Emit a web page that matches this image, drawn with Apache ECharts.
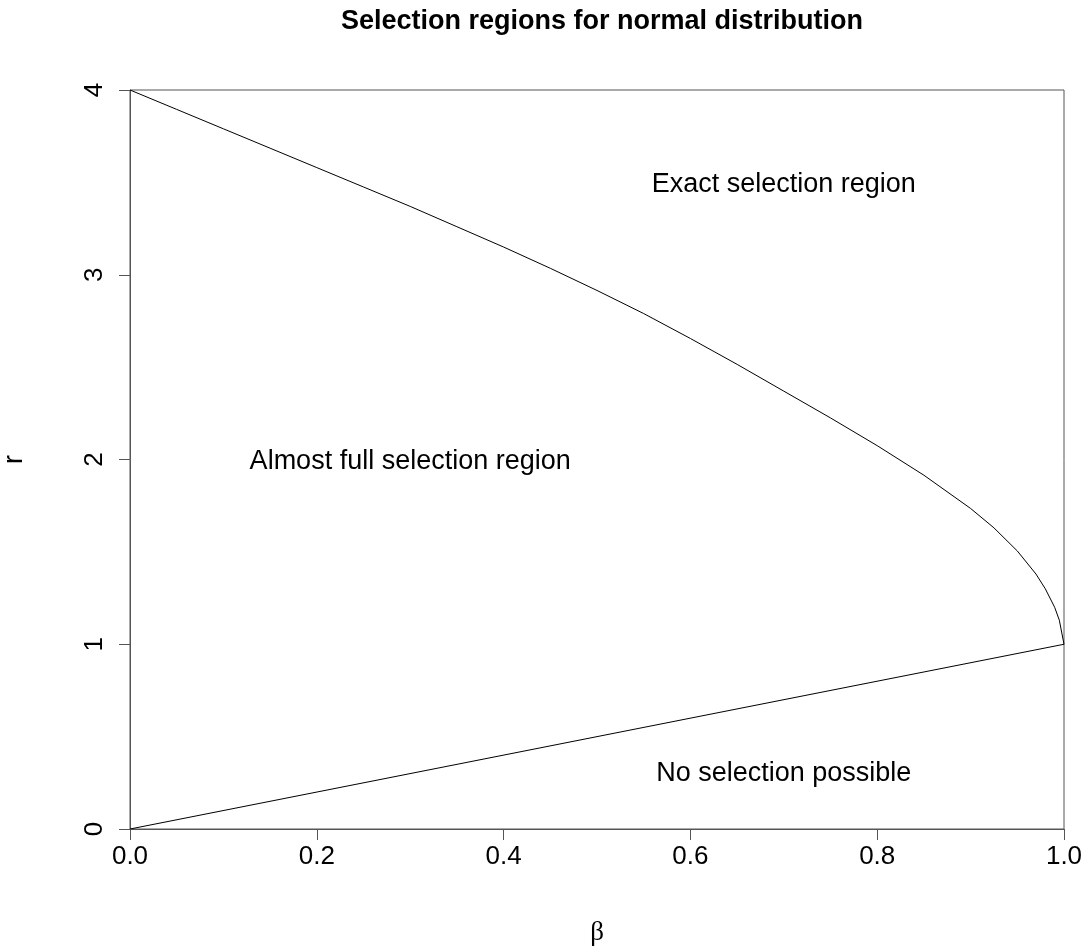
<!DOCTYPE html>
<html><head><meta charset="utf-8">
<script src="https://cdn.jsdelivr.net/npm/echarts@6/dist/echarts.min.js"></script>
<style>html,body{margin:0;padding:0;background:#fff}#c{width:1088px;height:949px}</style>
</head><body><div id="c"></div>
<script>
var betaUpper = [0, 0.05, 0.1, 0.15, 0.2, 0.25, 0.3, 0.35, 0.4, 0.45, 0.5, 0.55, 0.6, 0.65, 0.7, 0.75, 0.8, 0.85, 0.9, 0.925, 0.95, 0.97, 0.98, 0.99, 0.995, 1.0];
var rUpper    = [4.0, 3.895, 3.79, 3.685, 3.58, 3.475, 3.37, 3.26, 3.15, 3.035, 2.915, 2.79, 2.655, 2.515, 2.37, 2.225, 2.075, 1.915, 1.735, 1.63, 1.505, 1.38, 1.30, 1.20, 1.13, 1.0];
var betaLower = [0, 1];
var rLower    = [0, 1];
var xTicks = [0.0, 0.2, 0.4, 0.6, 0.8, 1.0];
var yTicks = [0, 1, 2, 3, 4];
var regionText = ["Exact selection region", "Almost full selection region", "No selection possible"];
var regionBeta = [0.7, 0.3, 0.7];
var regionR    = [3.49, 1.99, 0.3];

function zip(a, b) { return a.map(function (v, i) { return [v, b[i]]; }); }
var axisColor = '#555';
var sans = 'Liberation Sans, Arial, sans-serif';
var chart = echarts.init(document.getElementById('c'));
chart.setOption({
  animation: false,
  backgroundColor: '#fff',
  title: {
    text: 'Selection regions for normal distribution',
    left: 597, top: 3, textAlign: 'center',
    textStyle: { fontFamily: sans, fontSize: 27, fontWeight: 'bold', color: '#000' }
  },
  grid: { left: 130, right: 24, top: 90, bottom: 120, containLabel: false, outerBoundsMode: 'none',
    show: true, borderColor: axisColor, borderWidth: 1, backgroundColor: 'transparent' },
  xAxis: {
    type: 'value', min: xTicks[0], max: xTicks[xTicks.length - 1], interval: 0.2,
    name: 'β', nameLocation: 'middle', nameGap: 90,
    nameTextStyle: { fontFamily: 'Liberation Serif, DejaVu Serif, serif', fontSize: 27, color: '#000' },
    axisLine: { show: true, lineStyle: { color: axisColor, width: 1 } },
    axisTick: { show: true, inside: false, length: 11, lineStyle: { color: axisColor } },
    axisLabel: { margin: 15, fontFamily: sans, fontSize: 26, color: '#000',
      formatter: function (v) { return v.toFixed(1); } },
    splitLine: { show: false }
  },
  yAxis: {
    type: 'value', min: yTicks[0], max: yTicks[yTicks.length - 1], interval: 1,
    name: 'r', nameLocation: 'middle', nameGap: 102, nameRotate: 90,
    nameTextStyle: { fontFamily: sans, fontSize: 27, color: '#000' },
    axisLine: { show: true, lineStyle: { color: axisColor, width: 1 } },
    axisTick: { show: true, inside: false, length: 11, lineStyle: { color: axisColor } },
    axisLabel: { rotate: 90, margin: 22, fontFamily: sans, fontSize: 26, color: '#000', align: 'center', verticalAlign: 'bottom' },
    splitLine: { show: false }
  },
  series: [
    { type: 'line', data: zip(betaUpper, rUpper), showSymbol: false, smooth: false,
      lineStyle: { color: '#000', width: 1 }, z: 3 },
    { type: 'line', data: zip(betaLower, rLower), showSymbol: false,
      lineStyle: { color: '#000', width: 1 }, z: 3 },
    { type: 'scatter', symbolSize: 0, itemStyle: { opacity: 1 },
      data: regionText.map(function (t, i) { return { value: [regionBeta[i], regionR[i]], name: t }; }),
      label: { show: true, position: 'inside', formatter: function (p) { return p.name; },
        fontFamily: sans, fontSize: 27, color: '#000', opacity: 1 } }
  ]
});
</script></body></html>
